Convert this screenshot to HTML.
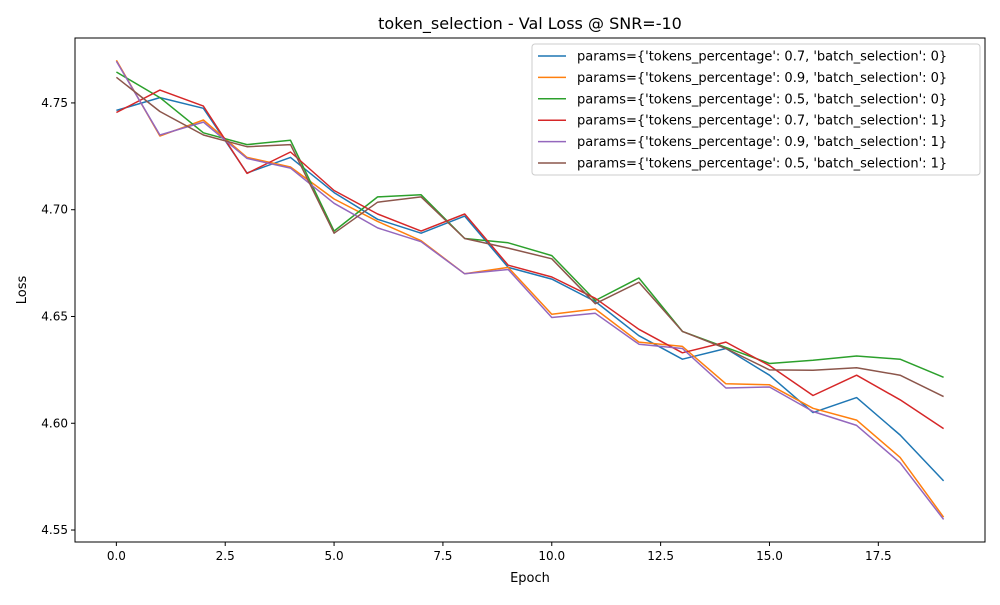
<!DOCTYPE html>
<html><head><meta charset="utf-8"><style>
body{margin:0;background:#fff;font-family:"Liberation Sans","DejaVu Sans",sans-serif}
</style></head><body>
<svg id="chart" width="1000" height="600" xmlns="http://www.w3.org/2000/svg" font-family="DejaVu Sans, Liberation Sans, sans-serif">
<rect width="1000" height="600" fill="#fff"/>
<text x="530" y="29" font-size="16" text-anchor="middle">token_selection - Val Loss @ SNR=-10</text>
<g id="grid"></g>
<g id="series"></g>
<rect x="75" y="38" width="910" height="504" fill="none" stroke="#000" stroke-width="1"/>
<g id="axes" font-size="12"></g>
<text x="530" y="582" font-size="13" text-anchor="middle">Epoch</text>
<text x="26" y="290" font-size="13" text-anchor="middle" transform="rotate(-90 26 290)">Loss</text>
<g id="legend"></g>
</svg>
<script>
const epochs=[0,1,2,3,4,5,6,7,8,9,10,11,12,13,14,15,16,17,18,19];
const seriesNames=["params={'tokens_percentage': 0.7, 'batch_selection': 0}","params={'tokens_percentage': 0.9, 'batch_selection': 0}","params={'tokens_percentage': 0.5, 'batch_selection': 0}","params={'tokens_percentage': 0.7, 'batch_selection': 1}","params={'tokens_percentage': 0.9, 'batch_selection': 1}","params={'tokens_percentage': 0.5, 'batch_selection': 1}"];
const seriesColors=["#1f77b4","#ff7f0e","#2ca02c","#d62728","#9467bd","#8c564b"];
const s07b0=[4.7465,4.7525,4.7475,4.7172,4.7245,4.708,4.6955,4.689,4.697,4.673,4.6675,4.657,4.641,4.630,4.635,4.6225,4.605,4.612,4.5945,4.573];
const s09b0=[4.770,4.7345,4.742,4.7245,4.720,4.705,4.6945,4.6855,4.670,4.673,4.651,4.6535,4.638,4.636,4.6185,4.618,4.607,4.6015,4.584,4.556];
const s05b0=[4.7645,4.7525,4.736,4.7305,4.7325,4.690,4.706,4.707,4.6865,4.6845,4.6785,4.6575,4.668,4.643,4.6355,4.628,4.6295,4.6315,4.630,4.6215];
const s07b1=[4.7455,4.756,4.7485,4.717,4.727,4.709,4.698,4.690,4.698,4.674,4.6685,4.6585,4.644,4.633,4.638,4.627,4.613,4.6225,4.611,4.5975];
const s09b1=[4.7695,4.735,4.741,4.724,4.7195,4.703,4.6915,4.685,4.670,4.672,4.6495,4.6515,4.637,4.635,4.6165,4.617,4.6055,4.599,4.5815,4.555];
const s05b1=[4.762,4.746,4.735,4.7295,4.7305,4.689,4.7035,4.706,4.6865,4.682,4.677,4.656,4.666,4.643,4.635,4.625,4.6248,4.626,4.6225,4.6125];
const xTicks=[0,2.5,5,7.5,10,12.5,15,17.5];
const xTickLabels=["0.0","2.5","5.0","7.5","10.0","12.5","15.0","17.5"];
const yTicks=[4.55,4.60,4.65,4.70,4.75];
const yTickLabels=["4.55","4.60","4.65","4.70","4.75"];
const allSeries=[s07b0,s09b0,s05b0,s07b1,s09b1,s05b1];

const NS="http://www.w3.org/2000/svg";
const L=75,R=985,T=38,B=542;
const xMin=-0.95,xMax=19.95,yMin=4.5444,yMax=4.7804;
const xs=v=>L+(v-xMin)/(xMax-xMin)*(R-L);
const ys=v=>B-(v-yMin)/(yMax-yMin)*(B-T);
function mk(tag,attrs,parent){const e=document.createElementNS(NS,tag);for(const k in attrs)e.setAttribute(k,attrs[k]);parent.appendChild(e);return e;}
const axes=document.getElementById('axes');
xTicks.forEach((t,i)=>{
  const x=xs(t);
  const tk=mk('line',{x1:x,x2:x,y1:B,y2:B+4,stroke:'#000'},axes);
  
  
  const tx=mk('text',{x:x,y:B+18,'text-anchor':'middle'},axes);
  tx.textContent=xTickLabels[i];
  
  
});
yTicks.forEach((t,i)=>{
  const y=ys(t);
  const tk=mk('line',{x1:L-4,x2:L,y1:y,y2:y,stroke:'#000'},axes);
  
  
  const tx=mk('text',{x:L-7,y:y+4,'text-anchor':'end'},axes);
  tx.textContent=yTickLabels[i];
  
  
});
const sg=document.getElementById('series');
allSeries.forEach((s,i)=>{
  const pts=s.map((v,j)=>xs(epochs[j]).toFixed(1)+','+ys(v).toFixed(1)).join(' ');
  const p=mk('polyline',{points:pts,fill:'none',stroke:seriesColors[i],'stroke-width':1.5,'stroke-linejoin':'round'},sg);
  
  
});
const lg=document.getElementById('legend');
const box=mk('rect',{x:532,y:44,width:448,height:131,rx:3,fill:'#fff','fill-opacity':0.8,stroke:'#ccc'},lg);


seriesNames.forEach((n,i)=>{
  const y=56+i*21.4;
  const g=mk('g',{},lg);
  
  
  mk('line',{x1:538,x2:566,y1:y,y2:y,stroke:seriesColors[i],'stroke-width':1.5},g);
  const t=mk('text',{x:577,y:y+4.5,'font-size':13},g);
  t.textContent=n;
});
</script>
</body></html>
